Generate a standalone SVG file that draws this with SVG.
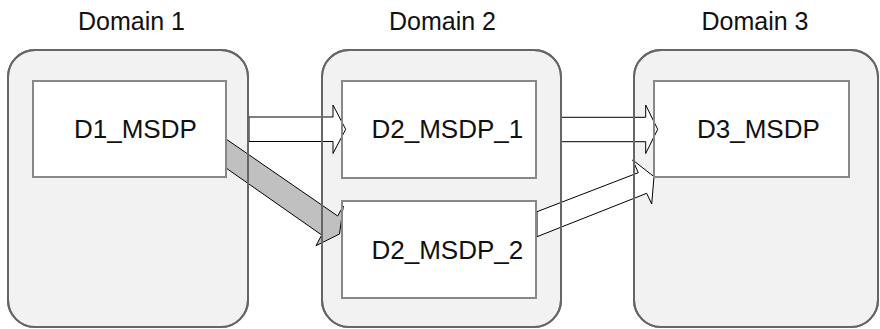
<svg xmlns="http://www.w3.org/2000/svg" width="880" height="329" viewBox="0 0 880 329">
<style>
.dom{fill:#f2f2f2;stroke:#666666;stroke-width:2}
.domline{fill:none;stroke:#666666;stroke-width:2}
.box{fill:#ffffff;stroke:#888888;stroke-width:2}
.boxline{fill:none;stroke:#888888;stroke-width:2}
.dlabel{font-family:"Liberation Sans",Arial,sans-serif;font-size:25px;fill:#111111;text-anchor:middle}
.nlabel{font-family:"Liberation Sans",Arial,sans-serif;font-size:26px;fill:#111111;text-anchor:start}
.arrow{fill:#ffffff;stroke:#000000;stroke-width:1;stroke-linejoin:miter}
.arrow.grey{fill:#c0c0c0}
</style>
<rect width="880" height="329" fill="#ffffff"/>
<g id="domain1">
  <rect class="dom" x="8" y="50" width="240" height="277" rx="27" ry="27"/>
  <text class="dlabel" x="131.5" y="29.5">Domain 1</text>
</g>
<g id="domain2">
  <rect class="dom" x="322" y="50" width="239" height="277" rx="27" ry="27"/>
  <text class="dlabel" x="442.5" y="29.5">Domain 2</text>
</g>
<g id="domain3">
  <rect class="dom" x="634" y="50" width="244" height="277" rx="27" ry="27"/>
  <text class="dlabel" x="755" y="29.5">Domain 3</text>
</g>
<g id="D1_MSDP">
  <rect class="box" x="33" y="81" width="193" height="96"/>
  <text class="nlabel" x="74" y="138">D1_MSDP</text>
</g>
<g id="D2_MSDP_1">
  <rect class="box" x="342" y="81" width="194" height="97"/>
  <text class="nlabel" x="371.5" y="137.5">D2_MSDP_1</text>
</g>
<g id="D2_MSDP_2">
  <rect class="box" x="342" y="201" width="194" height="97"/>
  <text class="nlabel" x="371.5" y="258.5">D2_MSDP_2</text>
</g>
<g id="D3_MSDP">
  <rect class="box" x="654" y="81" width="195" height="96"/>
  <text class="nlabel" x="697" y="137.5">D3_MSDP</text>
</g>
<g id="connectors">
  <polygon class="arrow" points="249,117 333,117 333,105 345.7,129.3 333,153.5 333,141.5 249,141.5"/>
  <polygon class="arrow" points="561,117.3 645.7,117.3 645.7,105 657.7,129.3 645.7,153.5 645.7,141.7 561,141.7"/>
  <polygon class="arrow grey" points="226,139 337.7,216 343.3,206 339.5,234 316,245.7 321.7,235 226,168"/>
  <polygon class="arrow" points="537,211.7 638.3,172.7 632.7,160 654,176.7 651.7,204 646.7,193.3 537,236.7"/>
</g>
<g id="outlines">
  <rect class="domline" x="8" y="50" width="240" height="277" rx="27" ry="27"/>
  <rect class="domline" x="322" y="50" width="239" height="277" rx="27" ry="27"/>
  <rect class="domline" x="634" y="50" width="244" height="277" rx="27" ry="27"/>
  <rect class="boxline" x="33" y="81" width="193" height="96"/>
  <rect class="boxline" x="342" y="81" width="194" height="97"/>
  <rect class="boxline" x="342" y="201" width="194" height="97"/>
  <rect class="boxline" x="654" y="81" width="195" height="96"/>
</g>
</svg>
